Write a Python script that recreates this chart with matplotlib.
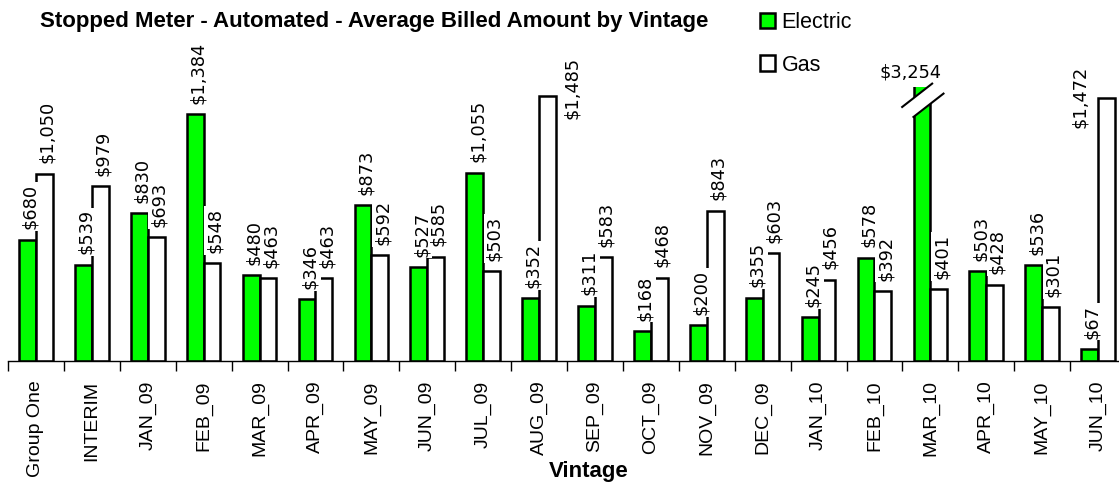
import numpy as np
import matplotlib.pyplot as plt
from matplotlib.patches import Patch, Polygon

# data
vintages = ["Group One", "INTERIM", "JAN_09", "FEB_09", "MAR_09", "APR_09", "MAY_09",
            "JUN_09", "JUL_09", "AUG_09", "SEP_09", "OCT_09", "NOV_09", "DEC_09",
            "JAN_10", "FEB_10", "MAR_10", "APR_10", "MAY_10", "JUN_10"]
electric = [680, 539, 830, 1384, 480, 346, 873, 527, 1055, 352,
            311, 168, 200, 355, 245, 578, 3254, 503, 536, 67]
gas = [1050, 979, 693, 548, 463, 463, 592, 585, 503, 1485,
       583, 468, 843, 603, 456, 392, 401, 428, 301, 1472]

# value where the plot area is cut (the MAR_10 bar is broken there)
y_top = 1536
# gas labels that sit beside the bar instead of above it (x, y offset in points)
side_labels = {"AUG_09": (18, 6), "JUN_10": (-19, 1)}

green = "#00ff00"
lw = 1.8
lab_font = dict(family="DejaVu Sans", fontsize=12.8)

fig = plt.figure(figsize=(11.19, 4.84), dpi=100)
ax = fig.add_axes([8 / 1119, 123 / 484, 1118 / 1119, 274 / 484])

x = np.arange(len(vintages))
w = 0.3
ax.bar(x - w / 2, electric, w, color=green, edgecolor="black", linewidth=lw, zorder=2)
ax.bar(x + w / 2, gas, w, color="white", edgecolor="black", linewidth=lw, zorder=2)
ax.set_xlim(-0.5, len(vintages) - 0.5)
ax.set_ylim(0, y_top)

box = dict(boxstyle="square,pad=0.1", facecolor="white", edgecolor="none")


def put_label(xpos, val, side=None):
    txt = "${:,}".format(val)
    if val > y_top:
        # broken bar: horizontal label above the cut
        ax.annotate(txt, (xpos, y_top), xytext=(-8, 4), textcoords="offset points",
                    ha="center", va="bottom", zorder=5, annotation_clip=False, **lab_font)
    elif side is not None:
        ax.annotate(txt, (xpos, val), xytext=side, textcoords="offset points",
                    ha="center", va="center", rotation=90, bbox=box, zorder=5,
                    annotation_clip=False, **lab_font)
    else:
        ax.annotate(txt, (xpos, val), xytext=(2, 7.5), textcoords="offset points",
                    ha="center", va="bottom", rotation=90, bbox=box, zorder=5,
                    annotation_clip=False, **lab_font)


for i, name in enumerate(vintages):
    put_label(x[i] - w / 2, electric[i])
for i, name in enumerate(vintages):
    put_label(x[i] + w / 2, gas[i], side_labels.get(name))

# axis break marks on bars that go past the top
for i, val in enumerate(electric):
    if val > y_top:
        c = x[i] - w / 2
        l1 = [(c - 0.354, y_top - 112), (c + 0.182, y_top + 19)]
        l2 = [(c - 0.152, y_top - 168), (c + 0.385, y_top - 37)]
        ax.add_patch(Polygon(l1 + l2[::-1], closed=True, facecolor="white",
                             edgecolor="none", zorder=3, clip_on=False))
        for seg in (l1, l2):
            ax.plot([p[0] for p in seg], [p[1] for p in seg], color="black",
                    linewidth=1.5, zorder=4, clip_on=False)

# axes styling
for s in ("top", "right", "left"):
    ax.spines[s].set_visible(False)
ax.spines["bottom"].set_linewidth(1.0)
ax.set_yticks([])
ax.set_xticks(x)
ax.set_xticklabels(vintages, rotation=90, fontsize=14, family="Liberation Sans")
ax.set_xticks(np.arange(-0.5, len(vintages), 1), minor=True)
ax.tick_params(axis="x", which="major", length=0, pad=14)
ax.tick_params(axis="x", which="minor", length=7, width=1, direction="out")

fig.text(589 / 1119, 1 - 471 / 484, "Vintage", ha="center", va="center",
         fontsize=16, fontweight="bold", family="Liberation Sans")
fig.text(374 / 1119, 1 - 21 / 484, "Stopped Meter - Automated - Average Billed Amount by Vintage",
         ha="center", va="center", fontsize=16, fontweight="bold", family="Liberation Sans")

handles = [Patch(facecolor=green, edgecolor="black", linewidth=lw),
           Patch(facecolor="white", edgecolor="black", linewidth=lw)]
fig.legend(handles, ["Electric", "Gas"], loc="upper left", bbox_to_anchor=(760 / 1119, 1 - 12 / 484),
           frameon=False, handlelength=0.7, handleheight=0.7, handletextpad=0.3,
           labelspacing=1.0, borderpad=0, borderaxespad=0,
           prop=dict(family="Liberation Sans", size=15.5))

fig.savefig("out.png", dpi=100)
